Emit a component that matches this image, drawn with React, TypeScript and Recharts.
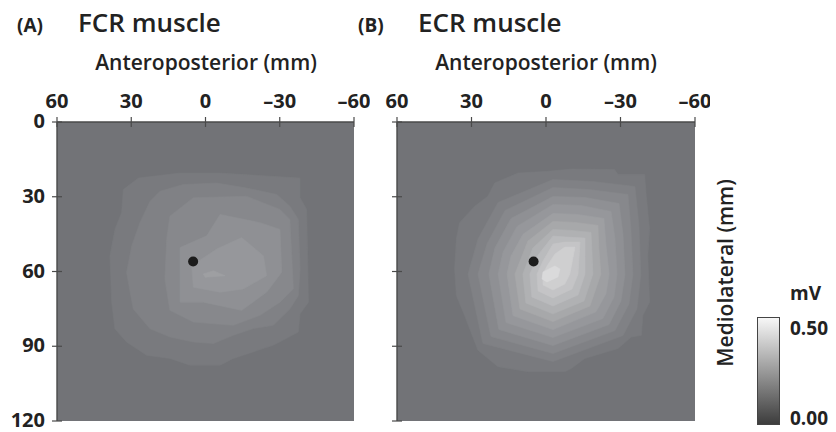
import React from 'react'
import { ScatterChart, Scatter, XAxis, YAxis, CartesianGrid } from 'recharts'

// ─── Axes ────────────────────────────────────────────────────────────────────
const X_TICKS = [60, 30, 0, -30, -60]
const Y_TICKS = [0, 30, 60, 90, 120]
const ELECTRODE = [{ x: 5, y: 56 }]

// ─── Contour fills [anteroposterior mm, mediolateral mm], outermost first ───
const FCR_1 = [[33.2, 27.1], [27.1, 22.5], [10.3, 20.5], [-5.9, 20.5], [-38.2, 22.5], [-38.2, 30.4], [-40.9, 35.1], [-41.6, 72.3], [-38.2, 77.0], [-37.5, 84.3], [-27.4, 89.6], [-11.2, 94.9], [-5.9, 97.6], [6.3, 97.6], [14.3, 94.9], [23.8, 93.6], [31.9, 88.3], [36.6, 83.0], [37.9, 72.3], [38.6, 53.7], [36.6, 43.1], [33.9, 36.4]]
const FCR_2 = [[18.4, 27.8], [9.0, 25.1], [-4.5, 24.5], [-16.6, 26.5], [-28.8, 29.1], [-34.1, 33.8], [-37.5, 39.1], [-38.2, 59.0], [-37.5, 69.7], [-34.1, 75.0], [-27.4, 81.6], [-19.3, 82.9], [-11.2, 85.6], [-3.2, 88.9], [4.9, 88.3], [14.3, 86.3], [22.4, 83.0], [29.2, 75.0], [31.9, 60.3], [29.8, 49.7], [26.5, 40.4], [22.4, 31.8]]
const FCR_3 = [[14.4, 37.8], [4.9, 30.4], [-16.6, 29.8], [-30.1, 35.1], [-34.1, 39.1], [-35.5, 67.0], [-30.1, 72.3], [-22.0, 77.6], [-11.2, 81.6], [4.9, 80.3], [14.4, 75.6], [16.4, 63.0], [15.7, 47.1]]
const FCR_4 = [[10.3, 50.4], [-0.5, 45.7], [-5.9, 37.1], [-22.0, 40.4], [-30.1, 43.1], [-30.8, 60.3], [-24.7, 68.3], [-14.6, 75.6], [0.9, 72.3], [10.3, 72.3]]
const FCR_5 = [[5.6, 57.7], [-4.5, 51.0], [-14.6, 46.4], [-23.4, 53.7], [-24.7, 61.7], [-15.3, 67.0], [-5.9, 68.3], [4.9, 66.3]]
const FCR_6 = [[0.9, 61.0], [-3.2, 59.7], [-7.9, 61.7], [0.1, 62.3]]

const ECR_1 = [[34.8, 40.4], [28.7, 33.8], [23.4, 29.8], [20.7, 24.5], [11.3, 20.5], [-0.8, 19.8], [-10.2, 18.9], [-27.6, 19.1], [-29.0, 21.1], [-39.7, 21.1], [-40.4, 29.8], [-41.7, 43.1], [-41.0, 53.7], [-41.7, 72.3], [-39.0, 77.6], [-38.4, 85.6], [-34.3, 86.3], [-29.0, 90.9], [-15.6, 94.9], [-10.2, 98.9], [-7.5, 100.2], [7.3, 100.2], [19.3, 98.2], [27.4, 91.6], [32.8, 77.6], [36.1, 69.6], [36.8, 59.0], [36.1, 47.0]]
const ECR_2 = [[-38.2, 61.0], [-37.4, 41.1], [-35.8, 25.9], [-18.9, 23.9], [-2.8, 23.1], [19.3, 32.3], [27.4, 47.0], [31.4, 61.0], [25.4, 88.9], [-2.8, 96.1], [-31.0, 85.7], [-36.6, 75.0]]
const ECR_3 = [[-35.0, 61.0], [-34.2, 43.1], [-33.0, 29.1], [-17.3, 27.1], [-2.8, 26.3], [16.5, 35.5], [23.8, 49.0], [27.4, 61.0], [22.2, 86.1], [-2.8, 92.9], [-27.8, 83.7], [-33.4, 73.0]]
const ECR_4 = [[-31.8, 61.0], [-31.0, 45.1], [-29.4, 32.7], [-15.7, 30.3], [-2.8, 29.9], [14.1, 38.7], [20.6, 50.6], [23.0, 61.0], [19.0, 83.3], [-2.8, 89.7], [-25.4, 81.3], [-30.2, 71.8]]
const ECR_5 = [[-28.6, 61.0], [-27.8, 47.0], [-26.2, 35.9], [-14.1, 33.5], [-2.8, 33.1], [11.7, 41.9], [17.3, 52.2], [19.3, 61.0], [16.1, 80.5], [-2.8, 86.5], [-22.9, 78.9], [-27.4, 70.2]]
const ECR_6 = [[-25.4, 61.0], [-24.1, 49.0], [-23.3, 38.7], [-12.5, 37.1], [-2.8, 36.7], [9.3, 45.1], [14.1, 53.8], [15.7, 61.0], [13.3, 77.7], [-2.8, 83.3], [-20.1, 76.2], [-24.1, 69.0]]
const ECR_7 = [[-22.1, 61.0], [-21.3, 51.0], [-20.9, 41.5], [-11.7, 40.3], [-2.8, 39.9], [7.3, 47.8], [12.5, 61.0], [10.5, 75.0], [-2.8, 80.1], [-17.7, 73.8]]
const ECR_8 = [[-18.9, 61.0], [-18.5, 52.2], [-18.1, 44.3], [-10.0, 43.5], [-2.8, 43.1], [5.3, 50.6], [9.3, 61.0], [8.1, 72.6], [-2.8, 77.0], [-15.3, 71.8]]
const ECR_9 = [[-15.7, 61.0], [-15.7, 53.8], [-15.7, 46.6], [-8.4, 46.2], [-2.8, 45.8], [3.2, 53.4], [6.5, 61.0], [5.7, 70.2], [-2.8, 73.8], [-12.9, 69.4]]
const ECR_10 = [[-12.9, 61.0], [-13.7, 48.2], [-7.6, 48.2], [-2.8, 49.0], [1.2, 55.8], [3.6, 61.0], [3.2, 67.8], [-2.8, 70.6], [-10.5, 67.0]]
const ECR_11 = [[-9.6, 61.0], [-11.7, 50.2], [-7.6, 50.2], [-3.6, 53.0], [-0.4, 57.8], [1.2, 61.0], [1.2, 65.4], [-2.8, 67.4], [-7.6, 65.0]]
const ECR_12 = [[1.2, 60.2], [-3.6, 57.8], [-5.6, 59.0], [-4.8, 62.2], [-0.4, 64.2], [1.6, 63.0]]

const FCR_LEVELS = [FCR_1, FCR_2, FCR_3, FCR_4, FCR_5, FCR_6]
const ECR_LEVELS = [ECR_1, ECR_2, ECR_3, ECR_4, ECR_5, ECR_6, ECR_7, ECR_8, ECR_9, ECR_10, ECR_11, ECR_12]

// grey ramp shared by both maps (same mV scale)
const BG_GREY = '#727377'
const LEVEL_GREYS = ['#797a7e', '#808185', '#87888c', '#8f9094', '#96979b', '#9e9fa2', '#a7a8aa', '#b0b1b3', '#babbbd', '#c4c4c6', '#cfcfd0', '#dadadb']

const AXIS = '#4a4a4a'
const FONT = '"Open Sans", "Noto Sans", sans-serif'
const TICK_STYLE = { fontFamily: FONT, fontSize: 20, fontWeight: 700, fill: '#222' }

const toPts = (rows: number[][]) => rows.map(([x, y]) => ({ x, y }))
const fmtTick = (v: number) => (v < 0 ? `\u2013${-v}` : `${v}`)

function polyFill(color: string) {
  return (props: any) => {
    const pts = (props.points || []).map((p: any) => `${p.x},${p.y}`).join(' ')
    return <polygon points={pts} fill={color} stroke={color} strokeWidth={0.6} />
  }
}
const noMarker = () => <g />

function XTick(props: any) {
  const { x, y, payload } = props
  const ay = y + 14
  return (
    <g>
      <line x1={x} x2={x} y1={ay - 5} y2={ay + 5} stroke={AXIS} strokeWidth={1.2} />
      <text x={x} y={y} textAnchor="middle" style={TICK_STYLE}>{fmtTick(payload.value)}</text>
    </g>
  )
}

function YTick(props: any) {
  const { x, y, payload, showLabel } = props
  const ax = x + 12
  return (
    <g>
      <line x1={ax - 5} x2={ax + 5} y1={y} y2={y} stroke={AXIS} strokeWidth={1.2} />
      {showLabel && (
        <text x={x} y={y} dy={6} textAnchor="end" style={TICK_STYLE}>{payload.value}</text>
      )}
    </g>
  )
}

function MapPanel({ levels, left, showYLabels, rightMargin }: { levels: number[][][]; left: number; showYLabels: boolean; rightMargin: number }) {
  return (
    <div style={{ position: 'absolute', left, top: 0 }}>
      <ScatterChart width={370} height={432} margin={{ top: 82, right: rightMargin, bottom: 11, left: 0 }}>
        <CartesianGrid fill={BG_GREY} stroke="none" horizontal={false} vertical={false} />
        {levels.map((poly, i) => (
          <Scatter
            key={i}
            data={toPts(poly)}
            line={polyFill(LEVEL_GREYS[i])}
            lineType="joint"
            shape={noMarker}
            isAnimationActive={false}
          />
        ))}
        <Scatter
          data={ELECTRODE}
          shape={(p: any) => <circle cx={p.cx} cy={p.cy} r={5} fill="#1c1c1c" />}
          isAnimationActive={false}
        />
        <XAxis
          type="number"
          dataKey="x"
          orientation="top"
          domain={[-60, 60]}
          reversed
          ticks={X_TICKS}
          allowDataOverflow
          height={40}
          tickSize={5}
          tickMargin={9}
          tickLine={false}
          axisLine={{ stroke: AXIS, strokeWidth: 1.4 }}
          tick={<XTick />}
        />
        <YAxis
          type="number"
          dataKey="y"
          domain={[0, 120]}
          reversed
          ticks={Y_TICKS}
          allowDataOverflow
          width={57}
          tickSize={5}
          tickMargin={7}
          tickLine={false}
          axisLine={{ stroke: AXIS, strokeWidth: 1.4 }}
          tick={<YTick showLabel={showYLabels} />}
        />
      </ScatterChart>
    </div>
  )
}

export default function App() {
  const title = { fontFamily: FONT, fontSize: 26, fontWeight: 600, fill: '#222' }
  const tag = { fontFamily: FONT, fontSize: 19, fontWeight: 700, fill: '#222' }
  const axisTitle = { fontFamily: FONT, fontSize: 21, fontWeight: 600, fill: '#222' }
  const cbar = { fontFamily: FONT, fontSize: 19, fontWeight: 700, fill: '#222' }
  return (
    <div style={{ position: 'absolute', left: 0, top: 0, width: 836, height: 432, background: '#fff' }}>
      <MapPanel levels={FCR_LEVELS} left={0} showYLabels rightMargin={16} />
      <MapPanel levels={ECR_LEVELS} left={340} showYLabels={false} rightMargin={15} />
      <svg width={836} height={432} style={{ position: 'absolute', left: 0, top: 0, pointerEvents: 'none' }}>
        <defs>
          <linearGradient id="mv-ramp" x1="0" y1="0" x2="0" y2="1">
            <stop offset="0%" stopColor="#f8f8f8" />
            <stop offset="100%" stopColor="#3c3c3c" />
          </linearGradient>
        </defs>
        <text x={17} y={32} style={tag}>(A)</text>
        <text x={78} y={32} style={title}>FCR muscle</text>
        <text x={358} y={32} style={tag}>(B)</text>
        <text x={418} y={32} style={title}>ECR muscle</text>
        <text x={206} y={70} textAnchor="middle" style={axisTitle}>Anteroposterior (mm)</text>
        <text x={546} y={70} textAnchor="middle" style={axisTitle}>Anteroposterior (mm)</text>
        <text transform="translate(733,273) rotate(-90)" textAnchor="middle" style={axisTitle}>Mediolateral (mm)</text>
        <text x={790} y={300} style={cbar}>mV</text>
        <rect x={757.5} y={317.5} width={22} height={107} fill="url(#mv-ramp)" stroke="#444" strokeWidth={1} />
        <text x={790} y={335} style={cbar}>0.50</text>
        <text x={790} y={425} style={cbar}>0.00</text>
      </svg>
    </div>
  )
}
